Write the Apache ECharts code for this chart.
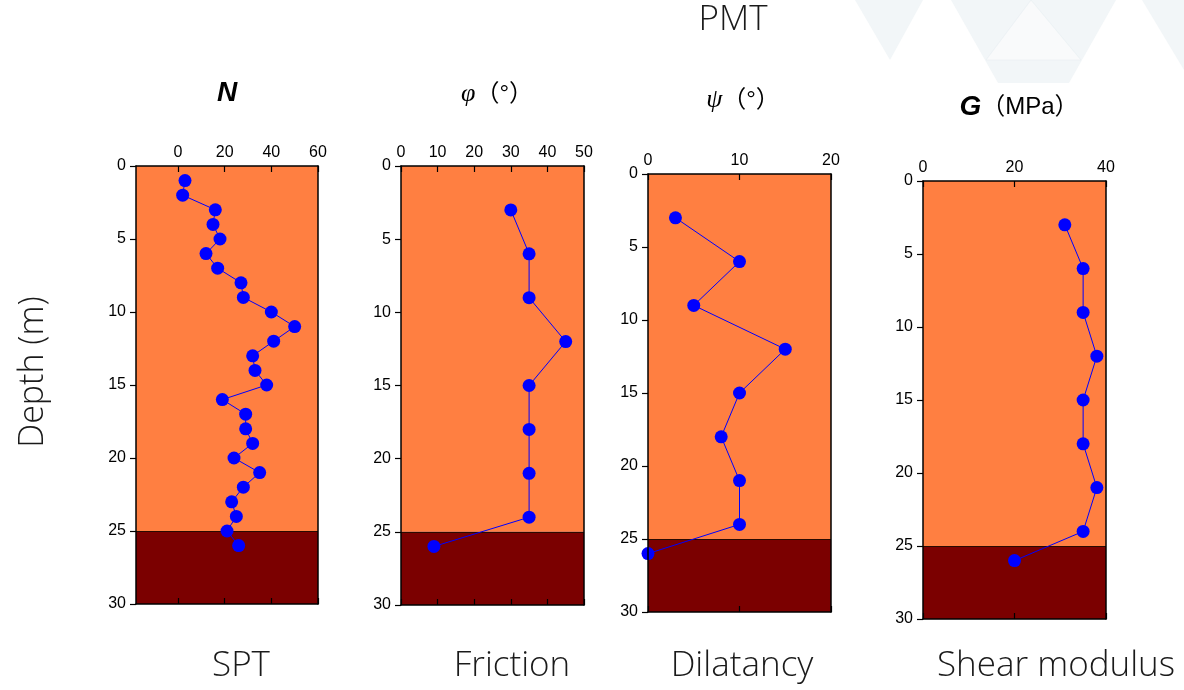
<!DOCTYPE html>
<html>
<head>
<meta charset="utf-8">
<script src="https://cdn.jsdelivr.net/npm/echarts@6/dist/echarts.min.js"></script>
<style>html,body{margin:0;padding:0;background:#fff;}#c{width:1184px;height:690px;}</style>
</head>
<body>
<div id="c"></div>
<script>
// ---- data ----
const depthSPT = [1,2,3,4,5,6,7,8,9,10,11,12,13,14,15,16,17,18,19,20,21,22,23,24,25,26];
const sptN = [3,2,16,15,18,12,17,27,28,40,50,41,32,33,38,19,29,29,32,24,35,28,23,25,21,26];
const depthPMT = [3,6,9,12,15,18,21,24,26];
const friction = [30,35,35,45,35,35,35,35,9];
const dilatancy = [3,10,5,15,10,8,10,10,0];
const shearG = [31,35,35,38,35,35,38,35,20];
const layerTop = [0, 25];
const layerBottom = [25, 30];
const depthTicks = [0,5,10,15,20,25,30];
const sptTicks = [0,20,40,60];
const panelNames = ['SPT','Friction','Dilatancy','Shear modulus'];
const mainTitle = 'PMT';
const yName = 'Depth (m)';

// ---- layout ----
const panels = [
  {left:136, top:166, w:182, h:438, depth:depthSPT, vals:sptN, min:-18, max:60, custom:sptTicks,
   title:'{b|N}', tx:227, ty:107, lx:241},
  {left:401, top:166, w:183, h:439, depth:depthPMT, vals:friction, min:0, max:50, interval:10,
   title:'{i|φ}{n|（°）}', tx:497, ty:107, lx:512},
  {left:648, top:174, w:183, h:438, depth:depthPMT, vals:dilatancy, min:0, max:20, interval:10,
   title:'{i|ψ}{n|（°）}', tx:743, ty:113, lx:742},
  {left:923, top:181, w:183, h:438, depth:depthPMT, vals:shearG, min:0, max:40, interval:20,
   title:'{b|G}{n|（MPa）}', tx:1019, ty:121, lx:1056}
];
const ORANGE = '#ff7f41', DARK = '#7b0000', BLUE = '#0000ff';
const labelFont = {color:'#000', fontSize:16, fontFamily:'"Liberation Sans", Arial, sans-serif'};

const grid = [], xAxis = [], yAxis = [], series = [], graphic = [];
panels.forEach((p, i) => {
  grid.push({left:p.left, top:p.top, width:p.w, height:p.h, outerBoundsMode:'none', containLabel:false});
  const xa = {gridIndex:i, type:'value', min:p.min, max:p.max, z:10,
    splitLine:{show:false},
    axisLine:{show:true, onZero:false, lineStyle:{color:'#000', width:1.5}},
    axisTick:{show:true, inside:true, length:6, lineStyle:{color:'#000', width:1.2}},
    axisLabel:Object.assign({show:true, margin:5}, labelFont)};
  if (p.custom) {
    xa.axisTick.customValues = p.custom;
    xa.axisLabel.customValues = p.custom;
  } else {
    xa.interval = p.interval;
  }
  const top = JSON.parse(JSON.stringify(xa)); top.position = 'top';
  const bot = JSON.parse(JSON.stringify(xa)); bot.position = 'bottom'; bot.axisLabel.show = false;
  xAxis.push(top, bot);
  yAxis.push({gridIndex:i, type:'value', inverse:true, min:0, max:30, interval:5, position:'left', z:10,
    splitLine:{show:false},
    axisLine:{show:true, onZero:false, lineStyle:{color:'#000', width:1.5}},
    axisTick:{show:true, inside:false, length:6, lineStyle:{color:'#000', width:1.2}},
    axisLabel:Object.assign({margin:10}, labelFont)});
  yAxis.push({gridIndex:i, type:'value', inverse:true, min:0, max:30, interval:5, position:'right', z:10,
    splitLine:{show:false},
    axisLine:{show:true, onZero:false, lineStyle:{color:'#000', width:1.5}},
    axisTick:{show:false}, axisLabel:{show:false}});
  series.push({
    type:'line', xAxisIndex:2*i, yAxisIndex:2*i,
    data:p.depth.map((d, k) => [p.vals[k], d]),
    symbol:'circle', symbolSize:13, showSymbol:true,
    lineStyle:{color:BLUE, width:1}, itemStyle:{color:BLUE},
    z:5,
    markArea:{silent:true, data:[
      [{yAxis:layerTop[0], itemStyle:{color:ORANGE}}, {yAxis:layerBottom[0]}],
      [{yAxis:layerTop[1], itemStyle:{color:DARK}}, {yAxis:layerBottom[1]}]
    ]},
    markLine:{silent:true, symbol:'none', label:{show:false},
      lineStyle:{color:'#2a0a00', width:1, type:'solid'}, data:[{yAxis:layerBottom[0]}]}
  });
  graphic.push({type:'text', x:p.tx, y:p.ty, z:20, style:{
    text:p.title, align:'center', textAlign:'center', verticalAlign:'bottom', textVerticalAlign:'bottom',
    rich:{
      b:{fontSize:28, fontWeight:'bold', fontStyle:'italic', fontFamily:'"Liberation Sans", Arial, sans-serif', fill:'#000'},
      i:{fontSize:26, fontStyle:'italic', fontFamily:'"Liberation Serif", serif', fill:'#000'},
      n:{fontSize:24, fontFamily:'"Liberation Sans", "Noto Sans CJK SC", sans-serif', fill:'#000'}
    }}});
  graphic.push({type:'text', x:p.lx, y:666, z:20, style:{
    text:panelNames[i], align:'center', textAlign:'center', verticalAlign:'middle', textVerticalAlign:'middle',
    fontSize:35, fontWeight:300, fontFamily:'"Open Sans", sans-serif', fill:'#1a1a1a'}});
});

// watermark shapes (top-right)
const wm = '#f2f6f8';
graphic.unshift(
  {type:'polygon', z:-10, shape:{points:[[855,0],[923,0],[890,60]]}, style:{fill:wm}},
  {type:'polygon', z:-10, shape:{points:[[951,0],[1116,0],[1069,83],[998,83]]}, style:{fill:wm}},
  {type:'polygon', z:-9, shape:{points:[[1031,0],[1081,60],[986,60]]}, style:{fill:'#f9fafb', stroke:'#e8eef2', lineWidth:0.6}},
  {type:'polygon', z:-10, shape:{points:[[1142,0],[1184,0],[1184,70]]}, style:{fill:wm}}
);
graphic.push({type:'text', x:733, y:20, z:20, style:{
  text:mainTitle, align:'center', textAlign:'center', verticalAlign:'middle', textVerticalAlign:'middle',
  fontSize:35, fontWeight:300, fontFamily:'"Open Sans", sans-serif', fill:'#1a1a1a'}});
graphic.push({type:'text', x:33, y:372, rotation:Math.PI/2, z:20, style:{
  text:yName, align:'center', textAlign:'center', verticalAlign:'middle', textVerticalAlign:'middle',
  fontSize:34, fontWeight:300, fontFamily:'"Open Sans", sans-serif', fill:'#1a1a1a'}});

const chart = echarts.init(document.getElementById('c'), null, {renderer:'canvas'});
chart.setOption({animation:false, backgroundColor:'#fff', grid, xAxis, yAxis, series, graphic});
</script>
</body>
</html>
